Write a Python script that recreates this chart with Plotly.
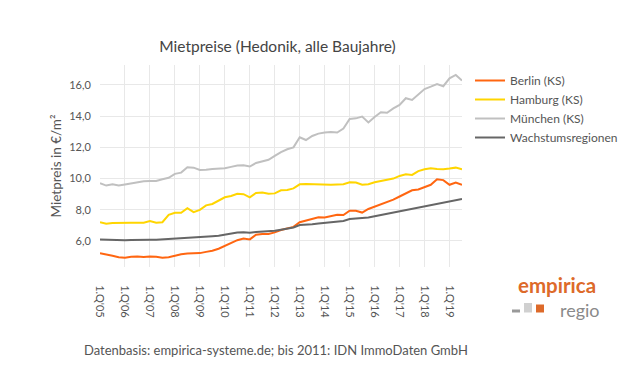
import plotly.graph_objects as go

quarters = [2005 + i / 4 for i in range(59)]
tick_years = list(range(2005, 2020))
tick_labels = ["1.Q'%02d" % (y % 100) for y in tick_years]

berlin = [5.22, 5.15, 5.05, 4.95, 4.93, 4.98, 5.0, 4.97, 5.0, 4.98, 4.93, 4.95, 5.05, 5.15, 5.2,
          5.2, 5.22, 5.3, 5.37, 5.5, 5.7, 5.9, 6.05, 6.15, 6.1, 6.4, 6.45, 6.45, 6.55, 6.7,
          6.8, 6.9, 7.2, 7.3, 7.4, 7.52, 7.5, 7.6, 7.68, 7.66, 7.94, 7.94, 7.82, 8.05, 8.2,
          8.33, 8.45, 8.65, 8.85, 9.05, 9.25, 9.3, 9.45, 9.6, 9.95, 9.9, 9.6, 9.75, 9.6]
hamburg = [7.2, 7.1, 7.15, 7.17, 7.17, 7.17, 7.17, 7.17, 7.28, 7.17, 7.2, 7.67, 7.8, 7.81, 8.1,
           7.85, 7.99, 8.28, 8.37, 8.58, 8.8, 8.88, 9.02, 9.0, 8.8, 9.08, 9.1, 9.02, 9.05, 9.25,
           9.27, 9.37, 9.63, 9.65, 9.63, 9.62, 9.6, 9.6, 9.62, 9.64, 9.76, 9.74, 9.6, 9.64, 9.76,
           9.85, 9.93, 10.0, 10.17, 10.27, 10.23, 10.48, 10.6, 10.66, 10.62, 10.6, 10.64, 10.7, 10.6]
muenchen = [9.7, 9.55, 9.63, 9.55, 9.62, 9.7, 9.75, 9.83, 9.85, 9.84, 9.95, 10.05, 10.3, 10.38, 10.72,
            10.7, 10.55, 10.56, 10.62, 10.63, 10.66, 10.75, 10.83, 10.85, 10.77, 11.0, 11.08, 11.2, 11.45, 11.7,
            11.88, 12.0, 12.65, 12.47, 12.73, 12.88, 12.95, 12.99, 12.95, 13.2, 13.82, 13.86, 13.97, 13.6, 13.95,
            14.25, 14.22, 14.5, 14.72, 15.15, 15.04, 15.36, 15.74, 15.89, 16.06, 15.92, 16.43, 16.64, 16.28]
wachstum = [6.1, 6.08, 6.07, 6.05, 6.04, 6.06, 6.08, 6.07, 6.08, 6.08, 6.1, 6.13, 6.18, 6.2, 6.22,
            6.24, 6.25, 6.27, 6.3, 6.33, 6.4, 6.5, 6.54, 6.56, 6.52, 6.58, 6.6, 6.62, 6.65, 6.72,
            6.77, 6.86, 7.02, 7.03, 7.07, 7.12, 7.15, 7.2, 7.24, 7.28, 7.4, 7.43, 7.46, 7.5, 7.58,
            7.66, 7.75, 7.82, 7.92, 8.0, 8.08, 8.15, 8.25, 8.32, 8.38, 8.46, 8.53, 8.61, 8.69]

series = [
    ("Berlin (KS)", berlin, "#ff6611"),
    ("Hamburg (KS)", hamburg, "#ffd500"),
    ("München (KS)", muenchen, "#c0c0c0"),
    ("Wachstumsregionen", wachstum, "#666666"),
]

FONT = "Lato, 'Open Sans', sans-serif"
L, R, T, B = 100, 462, 65, 267
PW, PH = R - L, B - T

def px_x(v):
    return (v - L) / PW

def px_y(v):
    return (B - v) / PH

fig = go.Figure()
for name, vals, col in series:
    fig.add_trace(go.Scatter(x=quarters, y=vals, name=name, mode="lines",
                             line=dict(color=col, width=2)))

fig.update_layout(
    width=640, height=380,
    margin=dict(l=L, r=640 - R, t=T, b=380 - B),
    paper_bgcolor="white", plot_bgcolor="white",
    font=dict(family=FONT, color="#555555", size=12),
    separators=",.",
    title=dict(text="Mietpreise (Hedonik, alle Baujahre)", xref="container", x=277.5 / 640,
               xanchor="center", y=1 - 47 / 380, yanchor="middle",
               font=dict(size=15.5, color="#444444")),
    showlegend=True,
    legend=dict(x=px_x(470), xanchor="left", y=px_y(66), yanchor="top",
                font=dict(size=12, color="#555555"), tracegroupgap=0,
                itemwidth=30, bgcolor="rgba(0,0,0,0)"),
    xaxis=dict(range=[2005, 2019.5], tickmode="array", tickvals=tick_years, ticktext=tick_labels,
               tickangle=90, showgrid=True, gridcolor="#e8e8e8", zeroline=False, automargin=False,
               showline=False, ticks="outside", ticklen=15, tickcolor="rgba(0,0,0,0)",
               tickfont=dict(size=11, color="#555555")),
    yaxis=dict(range=[4.33, 17.28], tickvals=[6, 8, 10, 12, 14, 16], tickformat=".1f",
               showgrid=True, gridcolor="#e8e8e8", zeroline=False, showline=False, automargin=False,
               ticks="outside", ticklen=6, tickcolor="rgba(0,0,0,0)",
               tickfont=dict(size=11, color="#555555"),
               title=dict(text="Mietpreis in €/m²", font=dict(size=13.5, color="#555555"), standoff=4)),
)

fig.add_annotation(text="Datenbasis: empirica-systeme.de; bis 2011: IDN ImmoDaten GmbH",
                   xref="paper", yref="paper", x=px_x(82), y=px_y(350), xanchor="left", yanchor="middle",
                   showarrow=False, font=dict(size=13, color="#555555"))

# logo
fig.add_annotation(text="<b>empirica</b>", xref="paper", yref="paper",
                   x=px_x(557), y=px_y(285), xanchor="center", yanchor="middle", showarrow=False,
                   font=dict(size=20.5, color="#dd6a2a"))
fig.add_annotation(text="regio", xref="paper", yref="paper",
                   x=px_x(602), y=px_y(310), xanchor="right", yanchor="middle",
                   showarrow=False, font=dict(size=18, color="#8a8a8a"))

for x0, x1, y0, y1, c in [(512, 520, 309.5, 312.5, "#999999"),
                          (524, 532, 303, 312.5, "#d0d0d0"),
                          (536, 544, 304.5, 312.5, "#dd6a2a")]:
    fig.add_shape(type="rect", xref="paper", yref="paper",
                  x0=px_x(x0), x1=px_x(x1), y0=px_y(y1), y1=px_y(y0),
                  fillcolor=c, line=dict(width=0))

fig.write_html("out.html", config={"displayModeBar": False},
               post_script="document.body.style.margin='0';")
